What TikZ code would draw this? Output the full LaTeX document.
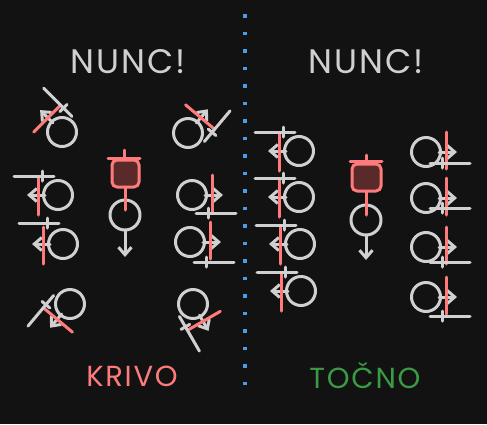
\documentclass[tikz,border=0pt]{standalone}
\usepackage{fontspec}
\setmainfont{Poppins}
\usetikzlibrary{arrows.meta}
\definecolor{bgc}{HTML}{121212}
\definecolor{wc}{HTML}{D0D0D0}
\definecolor{rc}{HTML}{FF7B7B}
\definecolor{coxfill}{HTML}{5A2A2A}
\definecolor{gc}{HTML}{3A9A46}
\definecolor{bc}{HTML}{4A9BE8}
\tikzset{
  wline/.style={draw=wc, line width=3pt, line cap=round, line join=round},
  rline/.style={draw=rc, line width=3pt, line cap=round, line join=round},
  arr/.style={-{Straight Barb[length=7.5pt,width=13pt]}},
  rower/.pic={
    \draw[wline] (0,0) circle[radius=14.5pt];
    \draw[wline,arr] (13,0) -- (31,0);
    \draw[rline] (20,-20) -- (20,17);
    \draw[wline] (4,#1) -- (44,#1);
    \draw[wline] (16,#1-5) -- (16,#1+5);
  },
  title/.style={text=wc, font=\fontsize{34}{40}\selectfont\addfontfeature{LetterSpace=6}},
  label/.style={font=\fontsize{29}{36}\selectfont\addfontfeature{LetterSpace=6}},
}
\begin{document}
\begin{tikzpicture}[x=1pt,y=-1pt]
\fill[bgc] (0,0) rectangle (487,424);
\useasboundingbox (0,0) rectangle (487,424);
% divider
\coordinate (d1) at (245,14);
\coordinate (d2) at (245,396);
\draw[bc, line width=3.2pt, dash pattern=on 3.5pt off 14pt] (d1) -- (d2);
% titles
\node[title] (t1) at (128,62) {NUNC!};
\node[title] (t2) at (366,62) {NUNC!};
\node[label, text=rc] (k) at (132,376) {KRIVO};
\node[label, text=gc] (tc) at (365,376) {TOČNO};
% left half rowers
\pic[rotate=135] at (62,132) {rower=18};
\pic[rotate=50] at (188,133) {rower=18};
\pic[rotate=180] at (58,195) {rower=19};
\pic[rotate=180] at (63,244) {rower=21};
\pic at (192,195) {rower=18};
\pic at (190,242) {rower=20};
\pic[rotate=-130] at (70,304) {rower=18};
\pic[rotate=-60] at (193,304) {rower=18};
% left cox
\draw[rline] (108,158) -- (140,158);
\draw[rline] (124,150) -- (124,158);
\draw[rline, fill=coxfill, rounded corners=5pt] (112,160) rectangle (139,187);
\draw[wline] (125,215) circle[radius=15pt];
\draw[rline] (125,187) -- (125,210);
\draw[wline,arr] (125,230) -- (125,257);
% right half rowers
\pic[rotate=180] at (299,151) {rower=19};
\pic[rotate=180] at (299,197) {rower=19};
\pic[rotate=180] at (300,244) {rower=19};
\pic[rotate=180] at (301,291) {rower=19};
\pic at (426,152) {rower=11};
\pic at (426,198) {rower=10};
\pic at (426,247) {rower=15};
\pic at (426,297) {rower=19};
% right cox
\draw[rline] (350,161) -- (382,161);
\draw[rline] (366,155) -- (366,161);
\draw[rline, fill=coxfill, rounded corners=5pt] (352,164) rectangle (381,191);
\draw[wline] (366,220) circle[radius=15pt];
\draw[rline] (366,191) -- (366,215);
\draw[wline,arr] (366,235) -- (366,260);
\end{tikzpicture}
\end{document}
